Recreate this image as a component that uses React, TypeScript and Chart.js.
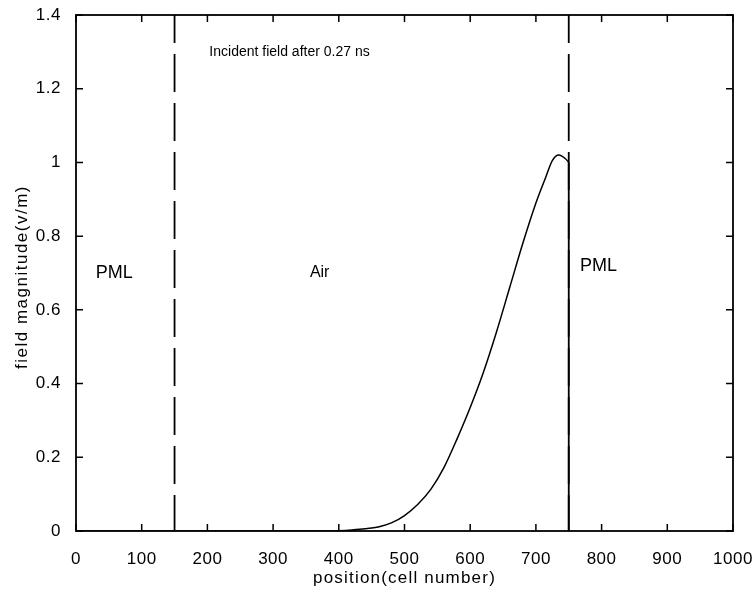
import { useEffect, useRef } from "react";
import { Chart, registerables } from "chart.js";

Chart.register(...registerables);

// Field magnitude of the incident pulse along the grid (cell index -> V/m)
const cellPositions = [0, 100, 200, 300, 380, 400, 420, 440, 460, 480, 500, 520, 540, 560, 580, 600, 620, 640, 660, 680, 700, 715, 725, 735, 745, 750];
const fieldMagnitude = [0, 0, 0, 0, 0, 0.001, 0.003, 0.006, 0.011, 0.022, 0.042, 0.072, 0.113, 0.172, 0.25, 0.335, 0.43, 0.54, 0.66, 0.78, 0.89, 0.96, 1.005, 1.02, 1.01, 1.0];

// PML / air interfaces
const pmlBoundaries = [150, 750];

const xTicks = [0, 100, 200, 300, 400, 500, 600, 700, 800, 900, 1000];
const yTicks = [0, 0.2, 0.4, 0.6, 0.8, 1.0, 1.2, 1.4];

const regionLabels = ["PML", "Air", "PML"];
const regionLabelX = [30, 356, 767];
const regionLabelY = [0.7, 0.7, 0.72];
const regionLabelSize = [18, 16, 18];

const noteText = "Incident field after 0.27 ns";
const noteX = 203;
const noteY = 1.3;

const xTitle = "position(cell number)";
const yTitle = "field magnitude(v/m)";

const FONT = "'Liberation Sans', Arial, Helvetica, sans-serif";

const spacingPlugin = {
  id: "tickSpacing",
  beforeLayout(chart: any) {
    chart.ctx.letterSpacing = "0.5px";
  },
  beforeDraw(chart: any) {
    chart.ctx.letterSpacing = "0.5px";
  },
};

const framePlugin = {
  id: "matlabFrame",
  afterDraw(chart: any) {
    const { ctx, chartArea } = chart;
    const { left, right, top, bottom } = chartArea;
    const xs = chart.scales.x;
    const ys = chart.scales.y;
    ctx.save();
    ctx.strokeStyle = "#000";
    ctx.lineWidth = 1.8;
    ctx.strokeRect(left, top, right - left, bottom - top);

    // inward ticks on all four sides
    const tl = 7;
    ctx.lineWidth = 1.5;
    ctx.beginPath();
    xTicks.forEach((v) => {
      const px = xs.getPixelForValue(v);
      ctx.moveTo(px, bottom);
      ctx.lineTo(px, bottom - tl);
      ctx.moveTo(px, top);
      ctx.lineTo(px, top + tl);
    });
    yTicks.forEach((v) => {
      const py = ys.getPixelForValue(v);
      ctx.moveTo(left, py);
      ctx.lineTo(left + tl, py);
      ctx.moveTo(right, py);
      ctx.lineTo(right - tl, py);
    });
    ctx.stroke();

    // region labels and note
    ctx.fillStyle = "#000";
    ctx.textAlign = "left";
    ctx.textBaseline = "middle";
    ctx.letterSpacing = "0px";
    regionLabels.forEach((t, i) => {
      ctx.font = `${regionLabelSize[i]}px ${FONT}`;
      ctx.fillText(t, xs.getPixelForValue(regionLabelX[i]), ys.getPixelForValue(regionLabelY[i]));
    });
    ctx.font = `14px ${FONT}`;
    ctx.fillText(noteText, xs.getPixelForValue(noteX), ys.getPixelForValue(noteY));

    // axis titles
    ctx.font = `17px ${FONT}`;
    ctx.textAlign = "center";
    ctx.letterSpacing = "1.2px";
    ctx.fillText(xTitle, (left + right) / 2, bottom + 47);
    ctx.letterSpacing = "1.5px";
    ctx.translate(22, 277);
    ctx.rotate(-Math.PI / 2);
    ctx.fillText(yTitle, 0, 0);
    ctx.restore();
  },
};

export default function App() {
  const canvasRef = useRef<HTMLCanvasElement | null>(null);

  useEffect(() => {
    if (!canvasRef.current) return;
    const curve = cellPositions.map((x, i) => ({ x, y: fieldMagnitude[i] }));
    const last = fieldMagnitude[fieldMagnitude.length - 1];
    const edge = cellPositions[cellPositions.length - 1];

    const boundarySets = pmlBoundaries.map((b) => ({
      data: [
        { x: b, y: 0 },
        { x: b, y: 1.4 },
      ],
      showLine: true,
      borderColor: "#000",
      borderWidth: 1.8,
      borderDash: [38, 11],
      borderDashOffset: 2,
      pointRadius: 0,
    }));

    const chart = new Chart(canvasRef.current, {
      type: "scatter",
      data: {
        datasets: [
          {
            data: curve,
            showLine: true,
            borderColor: "#000",
            borderWidth: 1.5,
            pointRadius: 0,
            cubicInterpolationMode: "monotone",
          } as any,
          {
            data: [
              { x: edge, y: last },
              { x: edge, y: 0 },
            ],
            showLine: true,
            borderColor: "#000",
            borderWidth: 1.8,
            pointRadius: 0,
          },
          ...boundarySets,
        ],
      },
      options: {
        animation: false,
        responsive: false,
        layout: { padding: { top: 15, right: 23, left: 0, bottom: 0 } },
        plugins: {
          legend: { display: false },
          tooltip: { enabled: false },
        },
        scales: {
          x: {
            type: "linear",
            min: 0,
            max: 1000,
            grid: { display: false },
            border: { display: false },
            ticks: {
              stepSize: 100,
              color: "#000",
              padding: 10,
              font: { family: FONT, size: 17 },
              callback: (v: any) => String(v),
            },
            afterFit: (s: any) => {
              s.height = 61;
              s.paddingLeft = 0;
              s.paddingRight = 0;
            },
          },
          y: {
            type: "linear",
            min: 0,
            max: 1.4,
            grid: { display: false },
            border: { display: false },
            ticks: {
              stepSize: 0.2,
              color: "#000",
              padding: 7,
              font: { family: FONT, size: 17 },
              callback: (v: any) => String(Math.round(Number(v) * 10) / 10),
            },
            afterFit: (s: any) => {
              s.width = 76;
              s.paddingTop = 0;
              s.paddingBottom = 0;
            },
          },
        },
      },
      plugins: [spacingPlugin, framePlugin],
    });
    return () => chart.destroy();
  }, []);

  return (
    <div style={{ position: "fixed", left: 0, top: 0, width: 756, height: 592, background: "#fff" }}>
      <canvas ref={canvasRef} width={756} height={592} />
    </div>
  );
}
